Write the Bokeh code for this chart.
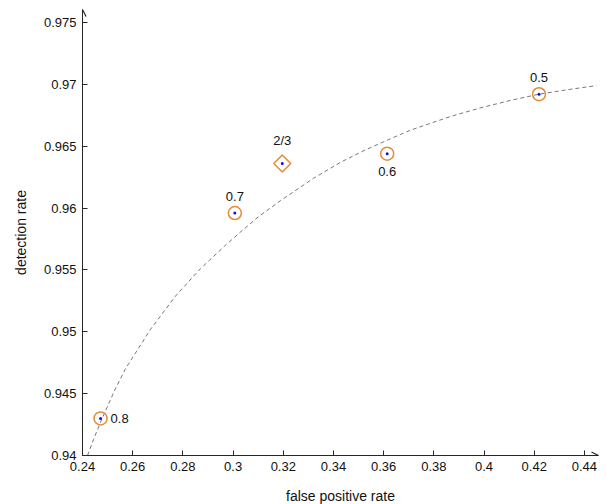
import numpy as np
from bokeh.plotting import figure
from bokeh.models import Range1d, FixedTicker, Arrow, OpenHead, ColumnDataSource, LabelSet
from bokeh.core.properties import value
from bokeh.embed import file_html
from bokeh.resources import INLINE

# ---- data ----
# threshold points shown with circles
circ_fpr = [0.2472, 0.3007, 0.3614, 0.4219]
circ_det = [0.9430, 0.9596, 0.9644, 0.9692]
circ_lab = ["0.8", "0.7", "0.6", "0.5"]
# threshold point shown with a diamond
diam_fpr = [0.3196]
diam_det = [0.9636]
diam_lab = ["2/3"]
# dashed trend curve
curve_fpr = [0.2420, 0.2444, 0.2472, 0.2531, 0.2571, 0.2671, 0.2771, 0.2870, 0.2970,
             0.3037, 0.3101, 0.3189, 0.3320, 0.3428, 0.3527, 0.3627, 0.3707, 0.3866,
             0.3986, 0.4105, 0.4217, 0.4344, 0.4448]
curve_det = [0.9400, 0.9413, 0.9427, 0.9454, 0.9470, 0.9502, 0.9529, 0.9551, 0.9570,
             0.9582, 0.9593, 0.9606, 0.9624, 0.9637, 0.9647, 0.9656, 0.9663, 0.9674,
             0.9681, 0.9687, 0.9692, 0.9696, 0.9699]
# axis ticks
x_ticks = [0.24, 0.26, 0.28, 0.3, 0.32, 0.34, 0.36, 0.38, 0.4, 0.42, 0.44]
x_tick_labels = ["0.24", "0.26", "0.28", "0.3", "0.32", "0.34", "0.36", "0.38", "0.4", "0.42", "0.44"]
y_ticks = [0.94, 0.945, 0.95, 0.955, 0.96, 0.965, 0.97, 0.975]
y_tick_labels = ["0.94", "0.945", "0.95", "0.955", "0.96", "0.965", "0.97", "0.975"]

# ---- styling ----
X0, X1 = 0.24, 0.4456
Y0, Y1 = 0.94, 0.97605
FONT = "Liberation Sans"
AX = "#262626"
ORANGE = "#E38B35"
BLUE = "#1010E0"

p = figure(frame_width=516, frame_height=446, output_backend="svg", toolbar_location=None,
           x_range=Range1d(X0, X1), y_range=Range1d(Y0, Y1),
           min_border_left=82, min_border_right=13, min_border_top=9, min_border_bottom=48)
p.outline_line_color = None
p.grid.visible = False
p.background_fill_color = "white"
p.border_fill_color = "white"

p.line(curve_fpr, curve_det, line_dash="4 3", line_color="#555555", line_width=0.8)

p.scatter(circ_fpr, circ_det, marker="circle", size=13, fill_color=None,
          line_color=ORANGE, line_width=1.5)
p.scatter(diam_fpr, diam_det, marker="square", angle=np.pi / 4, size=12, fill_color=None,
          line_color=ORANGE, line_width=1.5)
p.scatter(circ_fpr + diam_fpr, circ_det + diam_det, marker="circle", size=3,
          fill_color=BLUE, line_color=None)

# point labels
lab_x = circ_fpr + diam_fpr
lab_y = circ_det + diam_det
lab_t = circ_lab + diam_lab
lab_dx = [10, 0, 0, 0, 0]
lab_dy = [0, 17, -18, 17, 23]
lab_align = ["left", "center", "center", "center", "center"]
src = ColumnDataSource(dict(x=lab_x, y=lab_y, t=lab_t, dx=lab_dx, dy=lab_dy, al=lab_align))
p.add_layout(LabelSet(x="x", y="y", text="t", source=src, x_offset="dx", y_offset="dy",
                      text_align="al", text_baseline="middle", text_font=value(FONT),
                      text_font_size="13px", text_color="#111111"))

# axes
for ax in (p.xaxis[0], p.yaxis[0]):
    ax.axis_line_color = AX
    ax.axis_line_width = 1
    ax.major_tick_line_color = AX
    ax.major_tick_in = 5
    ax.major_tick_out = 0
    ax.minor_tick_line_color = None
    ax.major_label_text_font = FONT
    ax.major_label_text_font_size = "13px"
    ax.major_label_text_color = "#111111"
    ax.axis_label_text_font = FONT
    ax.axis_label_text_font_size = "14px"
    ax.axis_label_text_font_style = "normal"
    ax.axis_label_text_color = "#111111"

p.xaxis.ticker = FixedTicker(ticks=x_ticks)
p.xaxis.major_label_overrides = dict(zip(x_ticks, x_tick_labels))
p.yaxis.ticker = FixedTicker(ticks=y_ticks)
p.yaxis.major_label_overrides = dict(zip(y_ticks, y_tick_labels))
p.xaxis.axis_label = "false positive rate"
p.yaxis.axis_label = "detection rate"
p.xaxis.major_label_standoff = 6
p.yaxis.major_label_standoff = 6
p.xaxis.axis_label_standoff = 14
p.yaxis.axis_label_standoff = 12

# arrow heads on the axes
p.add_layout(Arrow(end=OpenHead(size=7, line_width=1.2, line_color=AX),
                   x_start=X1 - 0.002, y_start=Y0, x_end=X1, y_end=Y0,
                   line_color=AX, line_width=1))
p.add_layout(Arrow(end=OpenHead(size=7, line_width=1.2, line_color=AX),
                   x_start=X0, y_start=Y1 - 0.0005, x_end=X0, y_end=Y1,
                   line_color=AX, line_width=1))

open("out.html", "w").write(file_html(p, INLINE))
